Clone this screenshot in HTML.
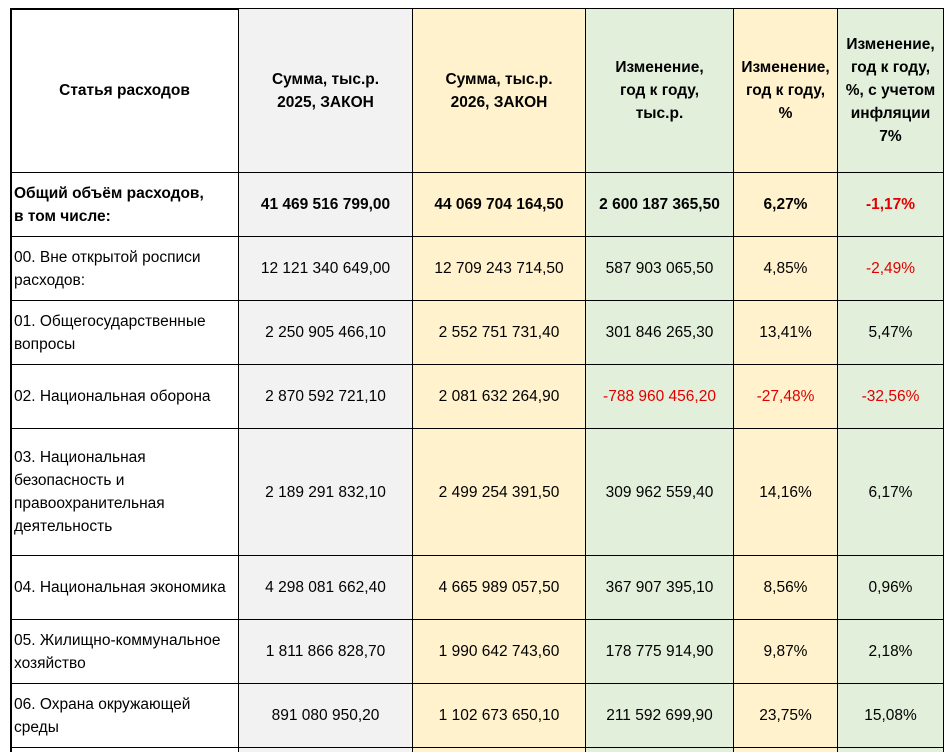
<!DOCTYPE html>
<html style="width:946px;height:752px;overflow:hidden"><head><meta charset="utf-8"><style>
body{margin:0;background:#fff;width:946px;height:752px;overflow:hidden;position:relative;font-family:"Liberation Sans",Arial,sans-serif;font-size:15.5px;color:#000}
.c{position:absolute;box-sizing:border-box;border-right:1.5px solid #000;border-bottom:1.5px solid #000;display:flex;align-items:center;justify-content:center;text-align:center;line-height:23px}
.l{justify-content:flex-start;text-align:left;padding-left:3px}
.b{font-weight:bold}
.r{color:#e00000}
.g{background:#f2f2f2}.y{background:#fff2cc}.gr{background:#e2efda}
</style></head><body>
<div style="position:absolute;left:10px;top:8px;width:934px;height:1.5px;background:#000"></div>
<div style="position:absolute;left:10px;top:8px;width:1.5px;height:744px;background:#000"></div>
<div id="t"></div>
<script>
const xs=[11,239,413,586,734,838,944];
const ys=[9,173,237,301,365,429,556,620,684,748,752];
const cls=['','g','y','gr','y','gr'];
const rows=[
[['<b>Статья расходов</b>','Сумма, тыс.р.<br>2025, ЗАКОН','Сумма, тыс.р.<br>2026, ЗАКОН','Изменение,<br>год к году,<br>тыс.р.','Изменение,<br>год к году,<br>%','Изменение,<br>год к году,<br>%, с учетом<br>инфляции<br>7%'],'hb'],
[['Общий объём расходов,<br>в том числе:','41 469 516 799,00','44 069 704 164,50','2 600 187 365,50','6,27%','<span class="r">-1,17%</span>'],'b'],
[['00. Вне открытой росписи<br>расходов:','12 121 340 649,00','12 709 243 714,50','587 903 065,50','4,85%','<span class="r">-2,49%</span>'],''],
[['01. Общегосударственные<br>вопросы','2 250 905 466,10','2 552 751 731,40','301 846 265,30','13,41%','5,47%'],''],
[['02. Национальная оборона','2 870 592 721,10','2 081 632 264,90','<span class="r">-788 960 456,20</span>','<span class="r">-27,48%</span>','<span class="r">-32,56%</span>'],''],
[['03. Национальная<br>безопасность и<br>правоохранительная<br>деятельность','2 189 291 832,10','2 499 254 391,50','309 962 559,40','14,16%','6,17%'],''],
[['04. Национальная экономика','4 298 081 662,40','4 665 989 057,50','367 907 395,10','8,56%','0,96%'],''],
[['05. Жилищно-коммунальное<br>хозяйство','1 811 866 828,70','1 990 642 743,60','178 775 914,90','9,87%','2,18%'],''],
[['06. Охрана окружающей<br>среды','891 080 950,20','1 102 673 650,10','211 592 699,90','23,75%','15,08%'],''],
[['','','','','',''],'']
];
let h='';
rows.forEach((r,i)=>{
 r[0].forEach((t,j)=>{
  let c='c '+cls[j];
  if(i==0)c+=' b';
  if(r[1]=='b')c+=' b';
  if(j==0&&i>0)c+=' l';
  if(i==0&&j==0)c='c b';
  let bb=i==rows.length-1?'border-bottom:none;':'';
  h+=`<div class="${c}" style="${bb}left:${xs[j]}px;top:${ys[i]}px;width:${xs[j+1]-xs[j]}px;height:${ys[i+1]-ys[i]}px"><div>${t}</div></div>`;
 });
});
document.getElementById('t').innerHTML=h;
</script>
</body></html>
